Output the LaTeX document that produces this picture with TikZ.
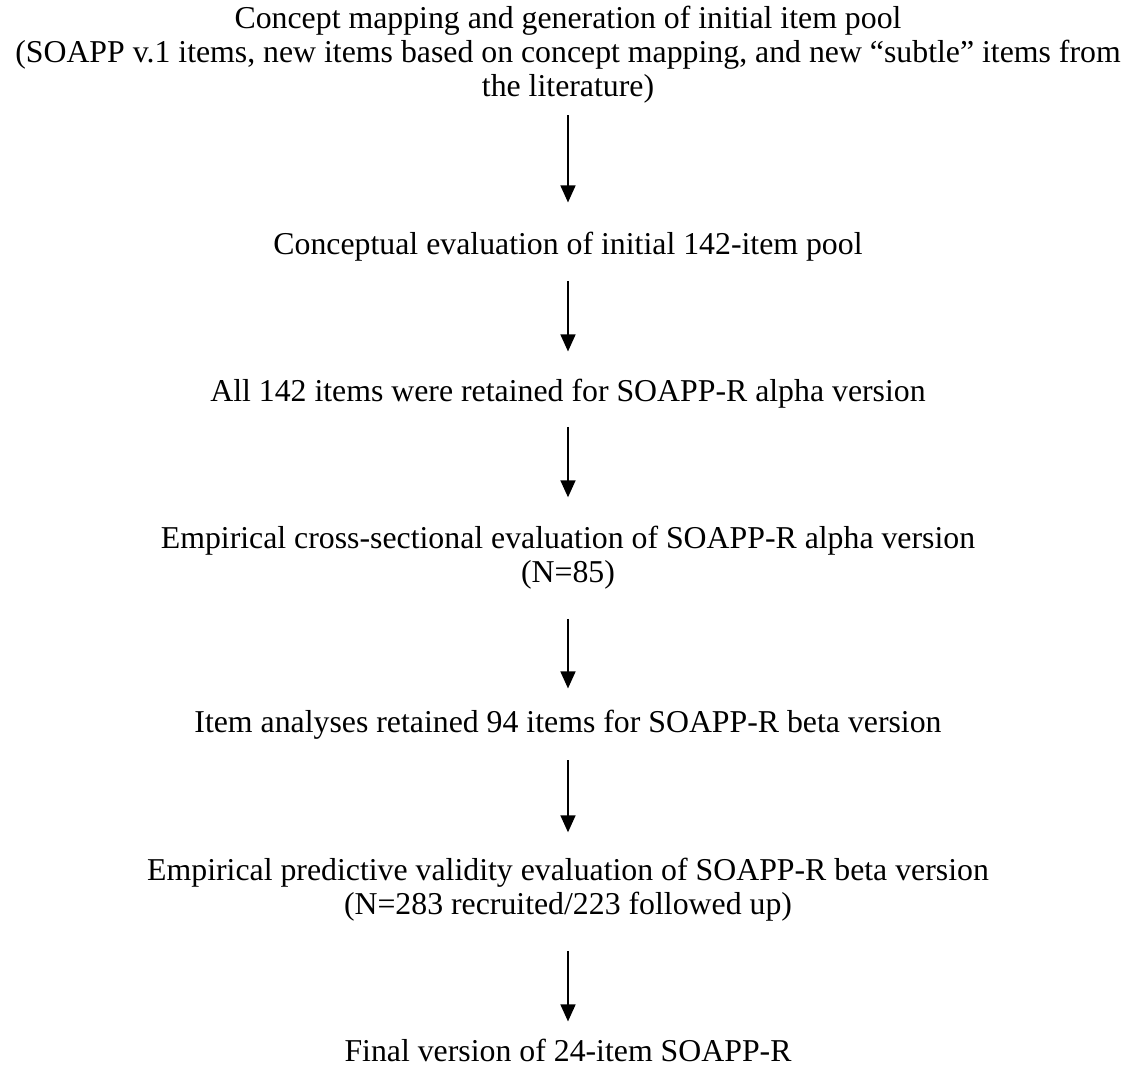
\documentclass[tikz,border=0pt]{standalone}
\usepackage{fontspec}
\setmainfont{Liberation Serif}
\usetikzlibrary{arrows.meta}
\begin{document}
\begin{tikzpicture}[x=1bp,y=-1bp,
  txt/.style={inner sep=0pt, align=center, font=\fontsize{31.8bp}{34bp}\selectfont},
  arr/.style={line width=1.6bp, -{Triangle[width=15bp,length=17bp]}}]
\useasboundingbox (0,0) rectangle (1139,1070);
\node[txt, anchor=north] (n1) at (568,6.3) {Concept mapping and generation of initial item pool\\(SOAPP v.1 items, new items based on concept mapping, and new “subtle” items from\\the literature)};
\node[txt, anchor=base] (n2) at (568,254) {Conceptual evaluation of initial 142-item pool};
\node[txt, anchor=base] (n3) at (568,401) {All 142 items were retained for SOAPP-R alpha version};
\node[txt, anchor=north] (n4) at (568,526.3) {Empirical cross-sectional evaluation of SOAPP-R alpha version\\(N=85)};
\node[txt, anchor=base] (n5) at (568,732) {Item analyses retained 94 items for SOAPP-R beta version};
\node[txt, anchor=north] (n6) at (568,858.3) {Empirical predictive validity evaluation of SOAPP-R beta version\\(N=283 recruited/223 followed up)};
\node[txt, anchor=base] (n7) at (568,1061) {Final version of 24-item SOAPP-R};
\draw[arr, shorten <=11.4bp, shorten >=29bp] (n1) -- (n2);
\draw[arr, shorten <=20bp, shorten >=27bp] (n2) -- (n3);
\draw[arr, shorten <=19bp, shorten >=29bp] (n3) -- (n4);
\draw[arr, shorten <=29bp, shorten >=21bp] (n4) -- (n5);
\draw[arr, shorten <=21bp, shorten >=26bp] (n5) -- (n6);
\draw[arr, shorten <=29bp, shorten >=17bp] (n6) -- (n7);
\end{tikzpicture}
\end{document}
